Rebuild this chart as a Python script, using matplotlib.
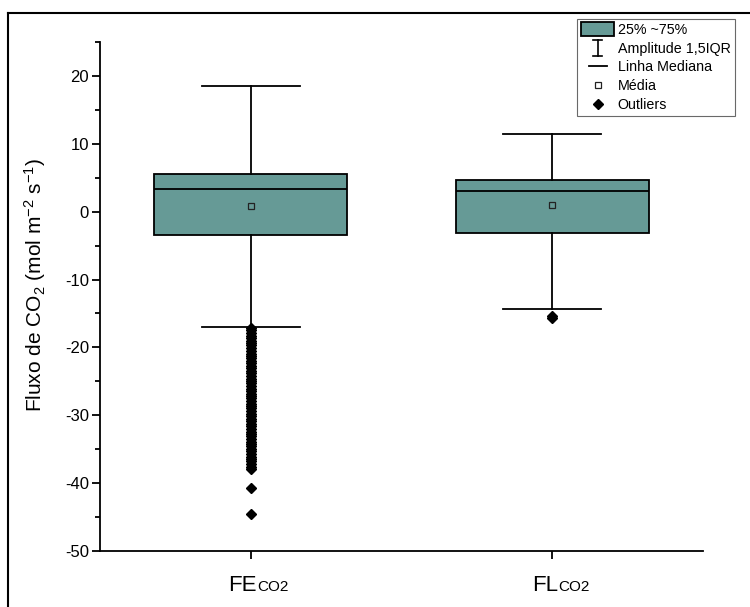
import matplotlib
matplotlib.use('Agg')
import matplotlib.pyplot as plt
from matplotlib.patches import Rectangle
from matplotlib.lines import Line2D
from matplotlib.legend_handler import HandlerBase
from matplotlib.ticker import MultipleLocator
import matplotlib.transforms as mtransforms

plt.rcParams['font.family'] = ['Liberation Sans', 'DejaVu Sans']
plt.rcParams['mathtext.fontset'] = 'custom'
plt.rcParams['mathtext.rm'] = 'Liberation Sans'
plt.rcParams['mathtext.it'] = 'Liberation Sans'
plt.rcParams['axes.unicode_minus'] = False

# ---- data ----
groups = ['FE', 'FL']
positions = [1, 2]
q1 = [-3.5, -3.1]
median = [3.4, 3.1]
q3 = [5.5, 4.7]
mean = [0.85, 0.95]
whislo = [-17.0, -14.3]
whishi = [18.5, 11.5]
fe_outliers = [-17.2, -17.5, -17.9, -18.3, -18.6, -19.0, -19.4, -19.7, -20.1,
               -20.5, -20.9, -21.2, -21.6, -22.0, -22.3, -22.7, -23.1, -23.5,
               -23.8, -24.2, -24.6, -24.9, -25.3, -25.7, -26.1, -26.4, -26.8,
               -27.2, -27.5, -27.9, -28.3, -28.7, -29.0, -29.4, -29.8, -30.1,
               -30.5, -30.9, -31.3, -31.6, -32.0, -32.4, -32.7, -33.1, -33.5,
               -33.9, -34.2, -34.6, -35.0, -35.3, -35.7, -36.1, -36.5, -36.8,
               -37.2, -37.6, -37.9, -40.7, -44.5]
fl_outliers = [-15.3, -15.7]
outliers = [fe_outliers, fl_outliers]

legend_labels = ['25% ~75%', 'Amplitude 1,5IQR', 'Linha Mediana', 'Média', 'Outliers']

box_color = '#669A96'
lw = 1.3

fig = plt.figure(figsize=(7.5, 6.07), dpi=100)
W, H = 750, 607
ax = fig.add_axes([100 / W, 56 / H, 603 / W, 509 / H])

stats = []
for i, g in enumerate(groups):
    stats.append(dict(label=g, q1=q1[i], med=median[i], q3=q3[i], mean=mean[i],
                      whislo=whislo[i], whishi=whishi[i], fliers=outliers[i]))

ax.bxp(stats, positions=positions, widths=0.64, capwidths=0.325,
       patch_artist=True, showmeans=True, showfliers=True,
       boxprops=dict(facecolor=box_color, edgecolor='black', linewidth=lw),
       medianprops=dict(color='black', linewidth=lw),
       whiskerprops=dict(color='black', linewidth=lw),
       capprops=dict(color='black', linewidth=lw),
       meanprops=dict(marker='s', markerfacecolor='none', markeredgecolor='#222222',
                      markersize=4.5, markeredgewidth=0.9),
       flierprops=dict(marker='D', markerfacecolor='black', markeredgecolor='black',
                       markersize=5, linestyle='none'))

ax.set_xlim(0.5, 2.5)
ax.yaxis.set_major_locator(MultipleLocator(10))
ax.yaxis.set_minor_locator(MultipleLocator(5))
ax.set_yticks(range(-50, 21, 10))
ax.set_ylim(-50, 25)
ax.set_xticks(positions)
ax.set_xticklabels(['', ''])

for s in ['top', 'right']:
    ax.spines[s].set_visible(False)
for s in ['left', 'bottom']:
    ax.spines[s].set_linewidth(lw)

ax.tick_params(axis='y', which='major', length=6, width=lw, labelsize=12, pad=2)
ax.tick_params(axis='y', which='minor', length=3.5, width=lw)
ax.tick_params(axis='x', which='major', length=6, width=lw)

# category labels: large letters followed by smaller "CO2"
base = ax.get_xaxis_transform()
for x, g in zip(positions, groups):
    tr = mtransforms.offset_copy(base, fig=fig, x=5.6, y=-40, units='dots')
    t1 = ax.text(x, 0, g, transform=tr, ha='right', va='baseline', fontsize=16)
    ax.annotate('CO2', xy=(1, 0), xycoords=t1, xytext=(0.3, 3.4),
                textcoords='offset points', ha='left', va='baseline', fontsize=11)

ax.set_ylabel(r'Fluxo de CO$\mathregular{_2}$ (mol m$\mathregular{^{-2}}$ s$\mathregular{^{-1}}$)',
              fontsize=15)
ax.yaxis.set_label_coords((48 - 100) / 603, 0.523)


class PatchHandler(HandlerBase):
    def create_artists(self, legend, orig_handle, xdescent, ydescent, width, height,
                       fontsize, trans):
        h = height * 1.4
        r = Rectangle((-xdescent, -ydescent + height / 2 - h / 2), width, h,
                      facecolor=box_color, edgecolor='black', linewidth=lw,
                      transform=trans)
        return [r]


class WhiskerHandler(HandlerBase):
    def create_artists(self, legend, orig_handle, xdescent, ydescent, width, height,
                       fontsize, trans):
        cx = -xdescent + width / 2
        y0 = -ydescent - 0.35 * height
        y1 = -ydescent + 1.3 * height
        cw = 0.13 * width
        arts = [Line2D([cx, cx], [y0, y1]),
                Line2D([cx - cw, cx + cw], [y0, y0]),
                Line2D([cx - cw, cx + cw], [y1, y1])]
        for a in arts:
            a.set_color('black')
            a.set_linewidth(1.2)
            a.set_transform(trans)
        return arts


class LineHandler(HandlerBase):
    def create_artists(self, legend, orig_handle, xdescent, ydescent, width, height,
                       fontsize, trans):
        cx = -xdescent + width / 2
        cy = -ydescent + height / 2
        hw = 0.28 * width
        l = Line2D([cx - hw, cx + hw], [cy, cy], color='black', linewidth=lw,
                   transform=trans)
        return [l]


class MarkerHandler(HandlerBase):
    def create_artists(self, legend, orig_handle, xdescent, ydescent, width, height,
                       fontsize, trans):
        cx = -xdescent + width / 2
        cy = -ydescent + height / 2
        m = Line2D([cx], [cy], linestyle='none', transform=trans)
        m.update_from(orig_handle)
        m.set_transform(trans)
        m.set_data([cx], [cy])
        return [m]


h_box = Rectangle((0, 0), 1, 1)
h_whisk = Line2D([], [])
h_med = Line2D([], [])
h_mean = Line2D([], [], marker='s', markerfacecolor='none', markeredgecolor='#222222',
                markersize=4.5, markeredgewidth=0.9, linestyle='none')
h_out = Line2D([], [], marker='D', markerfacecolor='black', markeredgecolor='black',
               markersize=5, linestyle='none')

leg = fig.legend([h_box, h_whisk, h_med, h_mean, h_out], legend_labels,
                 loc='upper left', bbox_to_anchor=(577 / W, 1 - 19 / H),
                 borderaxespad=0, fontsize=10.3, frameon=True, fancybox=False,
                 edgecolor='#444444', handlelength=2.3, handletextpad=0.25,
                 labelspacing=0.32, borderpad=0.3,
                 handler_map={h_box: PatchHandler(), h_whisk: WhiskerHandler(),
                              h_med: LineHandler(), h_mean: MarkerHandler(),
                              h_out: MarkerHandler()})
leg.get_frame().set_linewidth(0.8)

# outer frame lines
fig.add_artist(Line2D([8 / W, 1], [1 - 13 / H, 1 - 13 / H], color='black',
                      linewidth=1.5, transform=fig.transFigure))
fig.add_artist(Line2D([8 / W, 8 / W], [0, 1 - 13 / H], color='black',
                      linewidth=1.5, transform=fig.transFigure))

fig.savefig('out.png', dpi=100)
